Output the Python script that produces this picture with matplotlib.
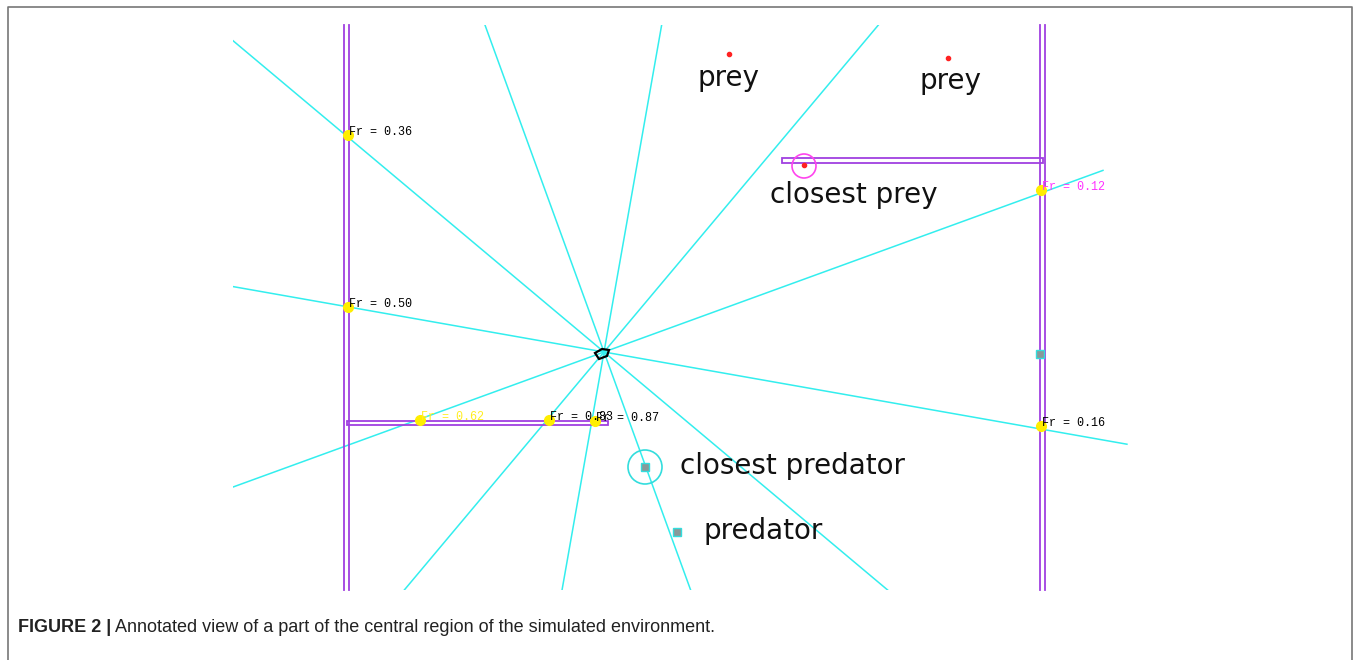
import numpy as np
import matplotlib.pyplot as plt
from matplotlib.patches import Rectangle, Circle, Polygon
from matplotlib import font_manager

# agent and sensor rays
agent = (604, 352)
ray_angles = [-10, 20, 50, 80, 110, 140, 170, 200, 230, 260, 290, 320]
ray_len = 531
view = (233, 25, 1360, 590)  # x0, y0, x1, y1 of the visible arena

# walls (double lines) and bars
walls_x = [344, 349, 1040, 1045]
bars = [(347, 421, 261, 4), (782, 158, 261, 5)]

# sensor readings where rays hit walls
hit_x = [348, 348, 420, 549, 595, 1041, 1041]
hit_y = [135, 307, 420, 420, 421, 190, 426]
hit_fr = [0.36, 0.50, 0.62, 0.83, 0.87, 0.12, 0.16]
hit_col = ['black', 'black', '#ffee22', 'black', 'black', '#ff33ff', 'black']

agent_shape_x = [595, 599, 607, 609, 602]
agent_shape_y = [353, 359, 356, 350, 349]

prey_x = [729, 948, 804]
prey_y = [54, 58, 165]
pred_x = [645, 677, 1040]
pred_y = [467, 532, 354]

labels = ['prey', 'prey', 'closest prey', 'closest predator', 'predator']
label_x = [697, 919, 770, 680, 703]
label_y = [78, 81, 195, 466, 531]

caption_bold = 'FIGURE 2 |'
caption = ' Annotated view of a part of the central region of the simulated environment.'

names = {f.name for f in font_manager.fontManager.ttflist}
cap_font = 'Liberation Sans Narrow' if 'Liberation Sans Narrow' in names else 'Liberation Sans'

fig = plt.figure(figsize=(13.6, 6.6), dpi=100)
ax = fig.add_axes([0, 0, 1, 1])
ax.set_xlim(0, 1360)
ax.set_ylim(660, 0)
ax.axis('off')

# frame
ax.plot([8, 8, 1352, 1352], [660, 7, 7, 660], color='#777777', lw=1.2)

clip = Rectangle((view[0], view[1]), view[2] - view[0], view[3] - view[1],
                 transform=ax.transData, fill=False, lw=0)
ax.add_patch(clip)
clip.set_visible(False)

for a in ray_angles:
    t = np.deg2rad(a)
    ln, = ax.plot([agent[0], agent[0] + ray_len * np.cos(t)],
                  [agent[1], agent[1] - ray_len * np.sin(t)],
                  color='#33eeee', lw=1.1, zorder=2)
    ln.set_clip_path(clip)

for x in walls_x:
    ax.plot([x, x], [25, 590], color='#a040e0', lw=1.3, zorder=3)
for bx, by, bw, bh in bars:
    ax.add_patch(Rectangle((bx, by), bw, bh, fill=False, ec='#a040e0', lw=1.3, zorder=3))

for x, y, fr, c in zip(hit_x, hit_y, hit_fr, hit_col):
    ax.plot(x, y, 'o', color='#ffee00', ms=7, zorder=5)
    ax.text(x + 1, y - 3, 'Fr = %.2f' % fr, color=c, fontsize=8.5,
            family='Liberation Mono', va='center', ha='left', zorder=6)

ax.add_patch(Polygon(list(zip(agent_shape_x, agent_shape_y)), closed=True,
                     fill=False, ec='black', lw=1.6, zorder=6))

ax.plot(prey_x, prey_y, 'o', color='#ff2222', ms=3, zorder=5)
ax.add_patch(Circle((prey_x[2], prey_y[2] + 1), 12, fill=False, ec='#ff44ee', lw=1.2, zorder=4))

ax.plot(pred_x, pred_y, 's', color='#889999', mec='#33dddd', ms=6, zorder=5)
ax.add_patch(Circle((pred_x[0], pred_y[0]), 17, fill=False, ec='#33dddd', lw=1.2, zorder=4))

for s, x, y in zip(labels, label_x, label_y):
    ax.text(x, y, s, fontsize=20, family='DejaVu Sans', va='center', ha='left', color='#111111')

tb = ax.text(18, 628, caption_bold, fontsize=13, family=cap_font, weight='bold',
             va='center', ha='left', color='#222222')
fig.canvas.draw()
bb = tb.get_window_extent()
x_end = ax.transData.inverted().transform((bb.x1, bb.y0))[0]
ax.text(x_end, 628, caption, fontsize=13, family=cap_font,
        va='center', ha='left', color='#222222')

fig.savefig('out.png', dpi=100)
